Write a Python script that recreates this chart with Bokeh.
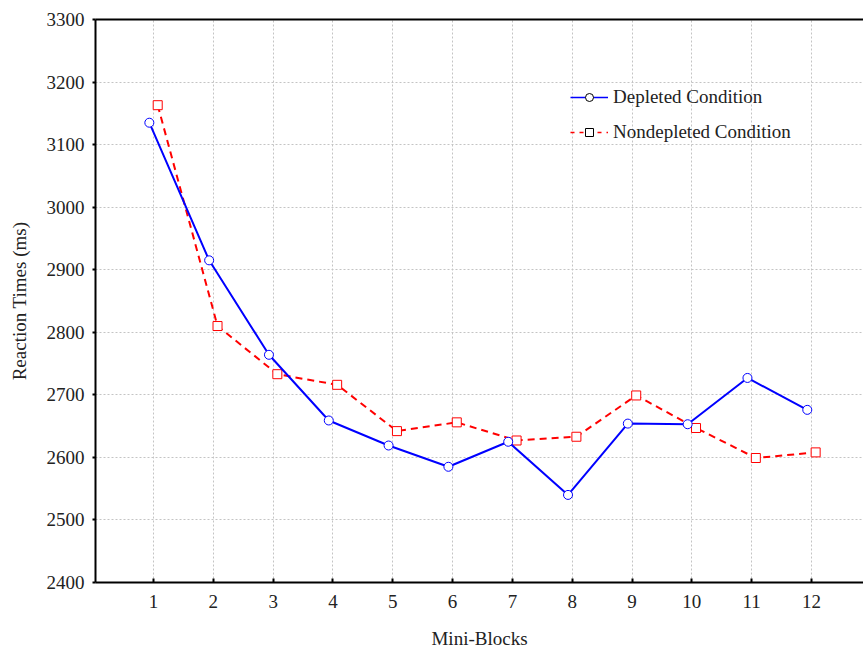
from bokeh.plotting import figure
from bokeh.models import FixedTicker, Range1d, Legend, LegendItem, LinearAxis, ColumnDataSource
from bokeh.embed import file_html
from bokeh.resources import INLINE
import numpy as np

blocks = [1, 2, 3, 4, 5, 6, 7, 8, 9, 10, 11, 12]
depleted = [3135, 2915, 2764, 2659, 2619, 2585, 2625, 2540, 2654, 2653, 2727, 2676]
nondepleted = [3163, 2810, 2733, 2716, 2642, 2656, 2627, 2633, 2699, 2647, 2599, 2608]
y_ticks = [2400, 2500, 2600, 2700, 2800, 2900, 3000, 3100, 3200, 3300]
offset = 0.07

FONT = "Liberation Serif"

p = figure(width=863, height=652, output_backend="svg", toolbar_location=None,
           x_range=Range1d(0.03, 12.87), y_range=Range1d(2400, 3300),
           min_border_left=95, min_border_right=0, min_border_top=19, min_border_bottom=70)
p.outline_line_color = None
p.background_fill_color = "white"

# grids
for g in (p.xgrid, p.ygrid):
    g.grid_line_color = "#c4c4c4"
    g.grid_line_dash = "2 2"
    g.grid_line_width = 1

p.xaxis.ticker = FixedTicker(ticks=blocks)
p.yaxis.ticker = FixedTicker(ticks=y_ticks)

for ax in (p.xaxis, p.yaxis):
    ax.axis_line_width = 2
    ax.axis_line_color = "black"
    ax.major_tick_line_color = "black"
    ax.major_tick_line_width = 2
    ax.minor_tick_line_color = None
    ax.major_label_text_font = FONT
    ax.major_label_text_font_size = "19px"
    ax.major_label_text_color = "#222222"
    ax.axis_label_text_font = FONT
    ax.axis_label_text_font_size = "19px"
    ax.axis_label_text_font_style = "normal"
    ax.axis_label_text_color = "#222222"

p.xaxis.major_tick_in = 4
p.xaxis.major_tick_out = 0
p.xaxis.major_label_standoff = 12
p.xaxis.axis_label = "Mini-Blocks"
p.xaxis.axis_label_standoff = 17

p.yaxis.major_tick_in = 0
p.yaxis.major_tick_out = 3
p.yaxis.major_label_standoff = 8
p.yaxis.axis_label = "Reaction Times (ms)"
p.yaxis.axis_label_standoff = 14

# top border line
top = LinearAxis(axis_line_width=2, axis_line_color="black",
                 major_tick_line_color=None, minor_tick_line_color=None,
                 major_label_text_font_size="0px", ticker=FixedTicker(ticks=[]))
p.add_layout(top, "above")

xd = [b - offset for b in blocks]
xn = [b + offset for b in blocks]

src_d = ColumnDataSource(dict(x=xd, y=depleted))
src_n = ColumnDataSource(dict(x=xn, y=nondepleted))

p.line("x", "y", source=src_n, line_color="#ff0000", line_width=2, line_dash="7 5")
p.scatter("x", "y", source=src_n, marker="square", size=9, line_color="#ff0000",
          fill_color="white", line_width=1)
p.line("x", "y", source=src_d, line_color="#0000ff", line_width=2)
p.scatter("x", "y", source=src_d, marker="circle", size=9, line_color="#0000ff",
          fill_color="white", line_width=1)

# legend proxies
empty = ColumnDataSource(dict(x=[np.nan], y=[np.nan]))
ld = p.line("x", "y", source=empty, line_color="#0000ff", line_width=1.5)
md = p.scatter("x", "y", source=empty, marker="circle", size=9, line_color="black",
               fill_color="white", line_width=1)
ln = p.line("x", "y", source=empty, line_color="#ff0000", line_width=1.5, line_dash="4 5")
mn = p.scatter("x", "y", source=empty, marker="square", size=10, line_color="black",
               fill_color="white", line_width=1)

legend = Legend(items=[LegendItem(label="Depleted Condition", renderers=[ld, md]),
                       LegendItem(label="Nondepleted Condition", renderers=[ln, mn])],
                location=(475, 439), glyph_width=38, glyph_height=20, label_height=20,
                label_standoff=5, spacing=13, padding=5, margin=0,
                border_line_color=None, background_fill_alpha=0,
                label_text_font=FONT, label_text_font_size="19px", label_text_color="#222222")
p.add_layout(legend, "center")

open("out.html", "w").write(file_html(p, INLINE))
